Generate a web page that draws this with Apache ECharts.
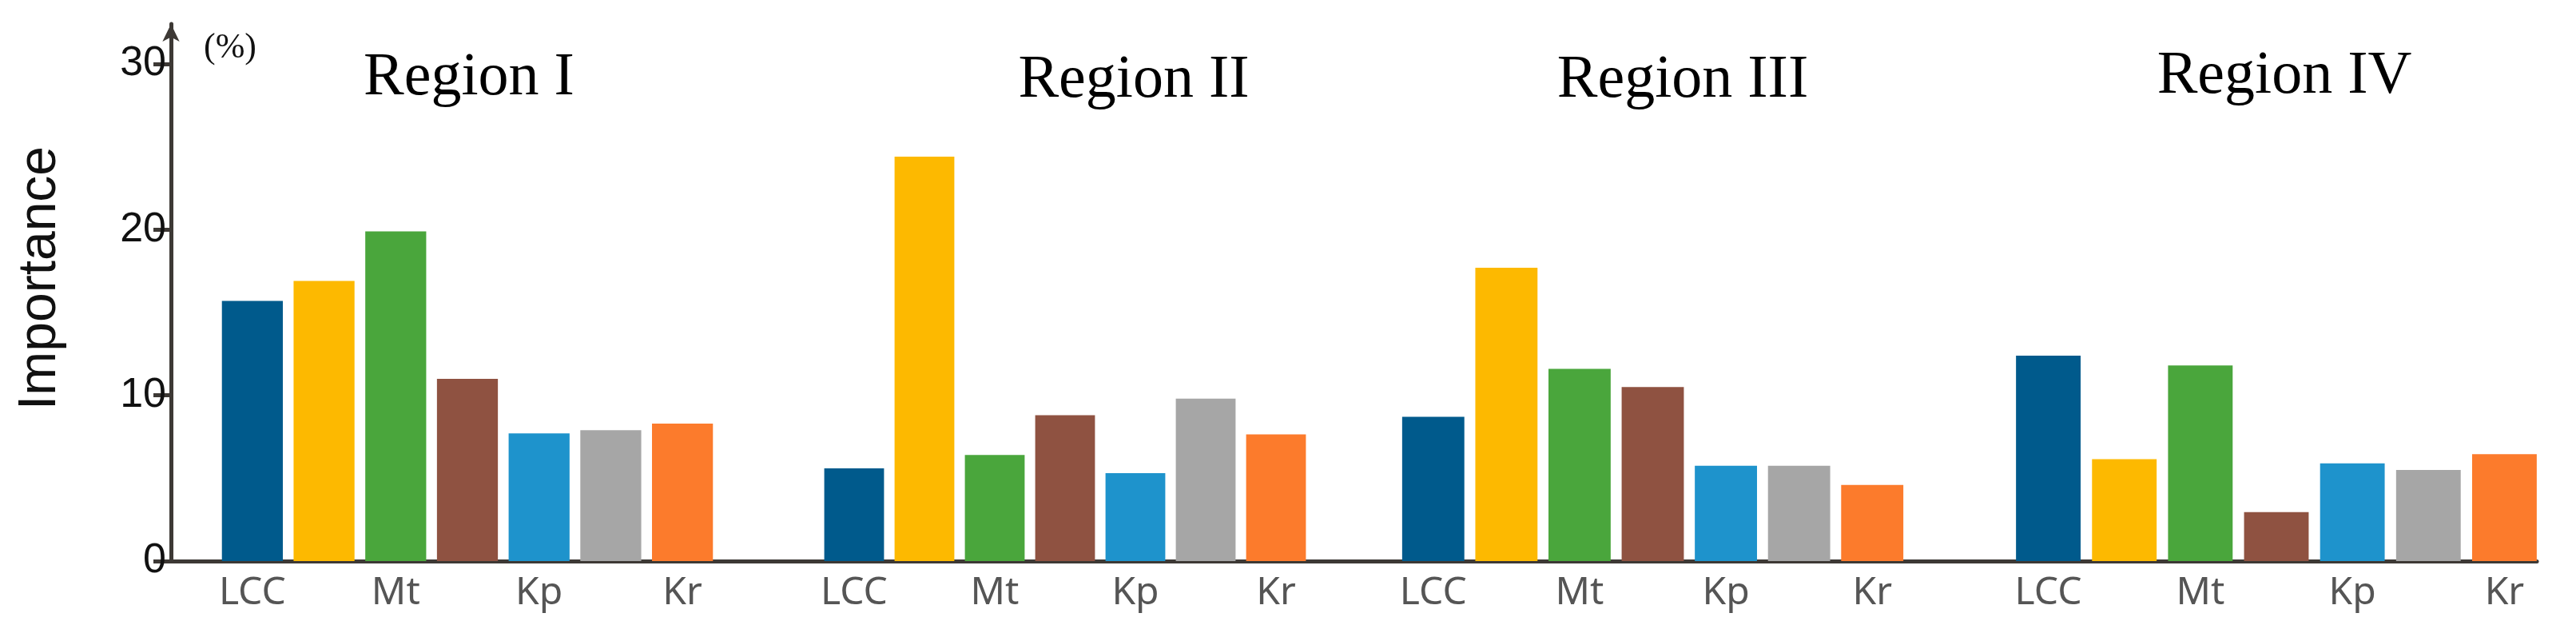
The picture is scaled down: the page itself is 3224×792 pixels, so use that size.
<!DOCTYPE html>
<html><head><meta charset="utf-8">
<script src="https://cdn.jsdelivr.net/npm/echarts@6/dist/echarts.min.js"></script>
<style>html,body{margin:0;padding:0;background:#fff}#c{width:3224px;height:792px}</style>
</head><body><div id="c"></div>
<script>
const categories = ['LCC','Mp','Mt','Mr','Kp','Kt','Kr'];
const regions = ['Region I','Region II','Region III','Region IV'];
const regionI   = [15.7, 16.9, 19.9, 11.0, 7.7, 7.9, 8.3];
const regionII  = [5.6, 24.4, 6.4, 8.8, 5.3, 9.8, 7.65];
const regionIII = [8.7, 17.7, 11.6, 10.5, 5.75, 5.75, 4.6];
const regionIV  = [12.4, 6.15, 11.8, 2.95, 5.9, 5.5, 6.45];
const yTicks = [0, 10, 20, 30];
const colors = ['#005a8c','#fdb900','#4aa63c','#8f5241','#1e93cc','#a6a6a6','#fc7b2c'];

const allData = [regionI, regionII, regionIII, regionIV];
const gridPos = [[271,628],[1025,616],[1748,641],[2516,666]];
const titleX = [587,1419,2106,2859];
const axisColor = '#3d3935';

const grids = [{left:214, right:49, top:30, height:672}];
const xAxes = [{gridIndex:0, type:'value', min:0, max:1, axisLine:{show:true, lineStyle:{color:axisColor,width:5}}, axisTick:{show:false}, axisLabel:{show:false}, splitLine:{show:false}}];
const yAxes = [{gridIndex:0, type:'value', min:0, max:32.4, interval:10,
  axisLine:{show:true, symbol:['none','arrow'], symbolSize:[16,22], lineStyle:{color:axisColor,width:5}},
  axisTick:{show:true, length:22, lineStyle:{color:axisColor,width:5}},
  axisLabel:{showMaxLabel:false, fontFamily:'Liberation Sans Narrow, Liberation Sans, Arial', fontSize:52, color:'#111', margin:6},
  splitLine:{show:false}}];
const series = [];
allData.forEach((d,i)=>{
  grids.push({left:gridPos[i][0], width:gridPos[i][1], top:80, height:622});
  xAxes.push({gridIndex:i+1, type:'category', data:categories, axisLine:{show:false}, axisTick:{show:false},
    axisLabel:{fontFamily:'Liberation Sans Narrow, Noto Sans', fontSize:48, color:'#555', margin:16}});
  yAxes.push({gridIndex:i+1, type:'value', min:0, max:30, show:false, splitLine:{show:false}});
  series.push({type:'bar', xAxisIndex:i+1, yAxisIndex:i+1, barWidth:'85%',
    data:d.map((v,j)=>({value:v, itemStyle:{color:colors[j]}}))});
});
const graphics = regions.map((r,i)=>({type:'text', left:titleX[i], top:96, style:{text:r, x:0, y:0, align:'center', verticalAlign:'middle', font:'76px "Liberation Serif", "Times New Roman", serif', fill:'#000'}}));
graphics.forEach((g,i)=>{ delete g.left; delete g.top; g.x=titleX[i]; g.y=[98,101,101,96][i]; });
graphics.push({type:'text', x:288, y:60, style:{text:'(%)', align:'center', verticalAlign:'middle', font:'44px "Liberation Serif", serif', fill:'#111'}});
graphics.push({type:'text', x:51, y:348, rotation:Math.PI/2, style:{text:'Importance', align:'center', verticalAlign:'middle', font:'66px "Liberation Sans", Arial, sans-serif', fill:'#111'}});

const chart = echarts.init(document.getElementById('c'));
chart.setOption({animation:false, grid:grids, xAxis:xAxes, yAxis:yAxes, series:series, graphic:graphics});
</script></body></html>
